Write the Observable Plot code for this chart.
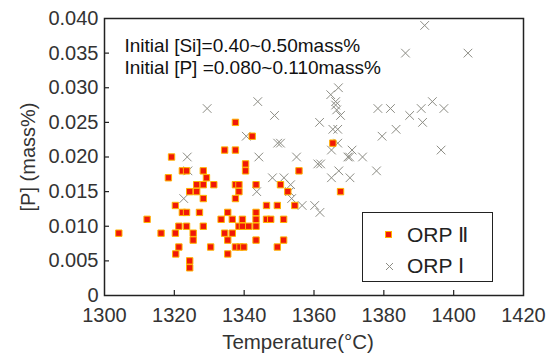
<!DOCTYPE html>
<html><head><meta charset="utf-8">
<script src="https://cdn.jsdelivr.net/npm/d3@7"></script>
<script src="https://cdn.jsdelivr.net/npm/@observablehq/plot@0.6"></script>
<style>
body{margin:0;background:#fff;font-family:"Liberation Sans",Arial,sans-serif;}
#wrap{position:relative;width:557px;height:356px;}
#legend{position:absolute;left:362px;top:212px;width:131px;height:70px;border:1.5px solid #222;box-sizing:border-box;background:#fff;color:#222;}
#legend .sym{position:absolute;}
#legend .lab{position:absolute;left:44px;font-size:21px;line-height:24px;white-space:nowrap;}
</style></head>
<body><div id="wrap"></div>
<script>
// ORP II (red squares)
const orp2T = [1304.1,1312.2,1316.2,1319.2,1318.3,1320.3,1320.3,1321.3,1321.3,1320.4,1322.3,1323.5,1322.3,1323.5,1323.5,1324.4,1326.4,1326.4,1328.3,1328.3,1329.2,1331.3,1328.3,1327.2,1328.3,1325.4,1325.4,1324.4,1324.4,1330.4,1334.4,1337.5,1340.4,1340.4,1337.5,1338.5,1338.5,1337.5,1335.3,1333.4,1336.6,1334.4,1336.6,1335.3,1335.3,1337.5,1338.8,1339.9,1338.5,1339.5,1339.5,1341.3,1343.4,1343.4,1343.4,1343.4,1343.4,1346.4,1346.4,1347.6,1349.5,1350.4,1352.5,1351.3,1351.3,1349.5,1354.5,1355.7,1337.5,1342.3,1365.4,1367.6];
const orp2P = [0.009,0.011,0.009,0.020,0.017,0.013,0.009,0.010,0.007,0.006,0.018,0.018,0.012,0.012,0.010,0.015,0.015,0.016,0.016,0.018,0.017,0.016,0.014,0.012,0.010,0.009,0.008,0.005,0.004,0.007,0.021,0.021,0.019,0.018,0.016,0.016,0.015,0.014,0.012,0.011,0.011,0.009,0.009,0.008,0.006,0.007,0.007,0.007,0.010,0.011,0.010,0.010,0.016,0.012,0.011,0.010,0.008,0.013,0.011,0.011,0.013,0.016,0.015,0.011,0.008,0.007,0.013,0.018,0.025,0.023,0.022,0.015];
// ORP I (grey crosses)
const orp1T = [1329.4,1343.9,1348.7,1340.6,1349.6,1350.4,1323.7,1344.2,1355.0,1361.6,1391.7,1386.2,1404.1,1367.0,1364.8,1366.2,1366.2,1366.5,1367.6,1366.8,1365.4,1378.3,1381.9,1387.4,1390.7,1393.9,1397.2,1391.1,1383.5,1379.5,1366.8,1365.0,1370.9,1370.2,1369.7,1373.9,1396.4,1361.1,1361.9,1367.1,1365.0,1370.3,1377.9,1356.6,1360.2,1361.7,1323.9,1322.7,1343.6,1348.1,1351.4,1353.3,1353.0,1353.6];
const orp1P = [0.027,0.028,0.026,0.023,0.022,0.022,0.020,0.020,0.020,0.025,0.039,0.035,0.035,0.030,0.029,0.028,0.0275,0.0268,0.026,0.024,0.024,0.027,0.027,0.026,0.027,0.028,0.027,0.025,0.024,0.023,0.022,0.021,0.021,0.020,0.020,0.020,0.021,0.019,0.019,0.018,0.017,0.017,0.018,0.013,0.013,0.012,0.018,0.014,0.015,0.017,0.017,0.016,0.015,0.014];
const xTicks = [1300,1320,1340,1360,1380,1400,1420];
const yTicks = [0,0.005,0.010,0.015,0.020,0.025,0.030,0.035,0.040];
const noteLines = ["Initial [Si]=0.40~0.50mass%","Initial [P] =0.080~0.110mass%"];
const seriesNames = ["ORP Ⅱ","ORP Ⅰ"];
const xTitle = "Temperature(°C)";
const yTitle = "[P] (mass%)";

const red = orp2T.map((t,i)=>({t, p: orp2P[i]}));
const grey = orp1T.map((t,i)=>({t, p: orp1P[i]}));
const xMin = 1300, yMin = 0;

const chart = Plot.plot({
  width: 557, height: 356,
  marginLeft: 104, marginRight: 34, marginTop: 18, marginBottom: 61,
  style: {fontFamily: "Liberation Sans, Arial, sans-serif", fontSize: "20px", color: "#333", background: "#fff"},
  x: {domain: [1300,1420]},
  y: {domain: [0,0.04]},
  marks: [
    Plot.frame({stroke: "#222", strokeWidth: 1.5}),
    Plot.axisX({ticks: xTicks, tickSize: 0, tickPadding: 12, tickFormat: d => String(d), label: null, fontSize: 20}),
    Plot.axisY({ticks: yTicks, tickSize: 0, tickPadding: 6, tickFormat: d => d === 0 ? "0" : d.toFixed(3), label: yTitle, labelArrow: "none", labelAnchor: "center", labelOffset: 84, fontSize: 20}),
    Plot.text([xTitle], {frameAnchor: "bottom", dx: -16, dy: 47, lineAnchor: "middle", fontSize: 20.5, fill: "#333"}),
    Plot.ruleX(xTicks.slice(1, -1), {x: d => d, y1: yMin, y2: yMin, insetBottom: 5, insetTop: 0, stroke: "#222", strokeWidth: 1.2}),
    Plot.ruleY(yTicks.slice(1, -1), {y: d => d, x1: xMin, x2: xMin, insetRight: -5, insetLeft: 0, stroke: "#222", strokeWidth: 1.2}),
    Plot.dot(grey, {x: "t", y: "p", symbol: "times", r: 4, stroke: "#8c8c84", strokeWidth: 1}),
    Plot.dot(red, {x: "t", y: "p", symbol: "square", r: 3.6, fill: "#f01808", stroke: "#ffb400", strokeWidth: 1}),
    Plot.text([noteLines.join("\n")], {frameAnchor: "top-left", dx: 20, dy: 18, textAnchor: "start", lineAnchor: "top", lineHeight: 1.15, fontSize: 19, fill: "#111"})
  ]
});
const wrap = document.getElementById("wrap");
wrap.appendChild(chart);
const lg = document.createElement("div");
lg.id = "legend";
lg.innerHTML = `<div class="sym" style="left:22px;top:18px;width:7px;height:7px;background:#f01808;border:1px solid #ffb400;box-sizing:border-box"></div>
<div class="lab" style="top:10px">${seriesNames[0]}</div>
<svg class="sym" style="left:22px;top:49px" width="9" height="9"><path d="M1,1L8,8M8,1L1,8" stroke="#8c8c84" stroke-width="1"/></svg>
<div class="lab" style="top:41px">${seriesNames[1]}</div>`;
wrap.appendChild(lg);
</script>
</body></html>
